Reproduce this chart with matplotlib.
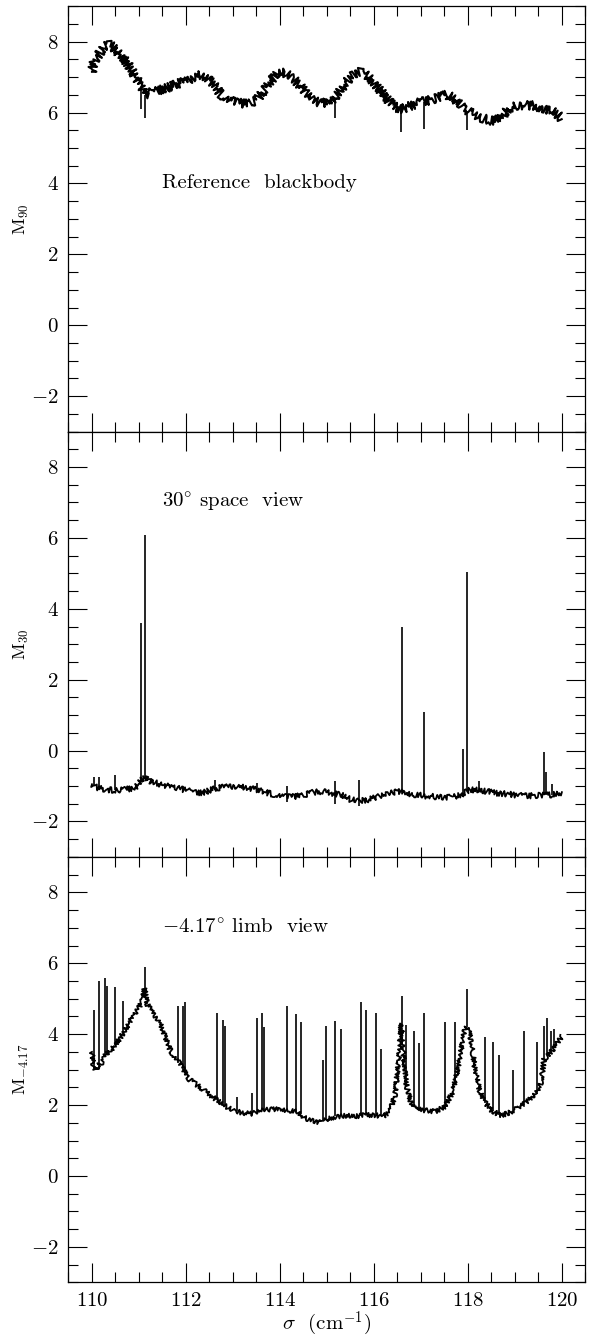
import matplotlib
matplotlib.use("Agg")
import matplotlib.pyplot as plt
from matplotlib.ticker import MultipleLocator

plt.rcParams["font.family"] = ["cmr10", "DejaVu Serif"]
plt.rcParams["mathtext.fontset"] = "cm"
plt.rcParams["axes.formatter.use_mathtext"] = True

# Reference blackbody (90 deg) - smooth envelope of the noisy trace
m90_x = [110.00, 110.05, 110.15, 110.25, 110.35, 110.45, 110.60, 110.75, 110.85, 110.95,
         111.05, 111.12, 111.20, 111.35, 111.50, 111.70, 111.90, 112.10, 112.30, 112.45,
         112.60, 112.75, 112.90, 113.10, 113.30, 113.50, 113.65, 113.80, 113.95, 114.10,
         114.25, 114.40, 114.55, 114.70, 114.90, 115.10, 115.25, 115.40, 115.55, 115.70,
         115.85, 116.00, 116.15, 116.30, 116.45, 116.60, 116.80, 117.00, 117.20, 117.40,
         117.55, 117.70, 117.85, 118.00, 118.15, 118.30, 118.45, 118.60, 118.75, 118.85,
         119.00, 119.20, 119.40, 119.60, 119.80, 119.90, 120.00]
m90_y = [7.15, 7.45, 7.65, 7.85, 7.93, 7.85, 7.62, 7.40, 7.18, 6.95,
         6.75, 6.50, 6.55, 6.60, 6.65, 6.75, 6.85, 6.95, 7.05, 6.98,
         6.78, 6.50, 6.35, 6.27, 6.25, 6.35, 6.60, 6.90, 7.10, 7.12,
         7.00, 6.80, 6.55, 6.35, 6.25, 6.35, 6.55, 6.85, 7.05, 7.15,
         7.05, 6.85, 6.60, 6.35, 6.15, 6.10, 6.20, 6.30, 6.35, 6.45,
         6.50, 6.40, 6.20, 6.05, 5.95, 5.85, 5.78, 5.78, 5.90, 6.10,
         6.20, 6.20, 6.20, 6.10, 6.05, 5.95, 5.82]
m90_dip_x = [111.05, 111.13, 115.18, 116.57, 117.06, 117.98]
m90_dip_top = [6.75, 6.50, 6.40, 6.10, 6.30, 6.05]
m90_dip_bot = [6.10, 5.85, 5.85, 5.45, 5.55, 5.50]

# 30 deg space view
m30_x = [110.00, 110.10, 110.30, 110.50, 110.70, 110.90, 111.00, 111.02, 111.06, 111.10,
         111.16, 111.22, 111.40, 111.60, 111.80, 112.00, 112.20, 112.35, 112.50, 112.70,
         112.90, 113.10, 113.30, 113.50, 113.70, 113.90, 114.10, 114.30, 114.50, 114.70,
         114.90, 115.10, 115.30, 115.50, 115.70, 115.90, 116.10, 116.30, 116.50, 116.70,
         116.90, 117.10, 117.30, 117.50, 117.70, 117.85, 117.95, 118.05, 118.20, 118.40,
         118.60, 118.80, 119.00, 119.20, 119.40, 119.60, 119.80, 120.00]
m30_y = [-0.95, -1.05, -1.10, -1.12, -1.10, -1.05, -0.95, -0.85, -0.80, -0.80,
         -0.75, -0.85, -0.93, -1.00, -1.05, -1.12, -1.18, -1.20, -1.12, -1.05,
         -1.00, -1.02, -1.05, -1.10, -1.18, -1.25, -1.30, -1.30, -1.25, -1.18,
         -1.15, -1.20, -1.25, -1.38, -1.42, -1.38, -1.30, -1.22, -1.15, -1.20,
         -1.25, -1.28, -1.30, -1.33, -1.30, -1.25, -1.15, -1.10, -1.12, -1.15,
         -1.20, -1.22, -1.25, -1.28, -1.27, -1.25, -1.25, -1.18]
m30_line_x = [111.04, 111.12, 116.59, 117.06, 117.90, 117.98, 119.62, 119.67,
              110.05, 110.15, 110.50, 112.62, 113.52, 114.15, 115.18, 115.68,
              118.23, 119.78, 115.18, 114.15, 115.68]
m30_line_top = [3.60, 6.07, 3.48, 1.09, 0.05, 5.04, -0.04, -0.60,
                -0.75, -0.75, -0.70, -0.82, -0.90, -1.00, -0.85, -0.82,
                -0.85, -0.95, -1.20, -1.30, -1.40]
m30_line_bot = [-0.85, -0.80, -1.15, -1.28, -1.25, -1.15, -1.25, -1.25,
                -1.00, -1.07, -1.12, -1.10, -1.10, -1.30, -1.22, -1.42,
                -1.12, -1.25, -1.50, -1.45, -1.55]

# -4.17 deg limb view
m417_x = [110.00, 110.03, 110.08, 110.15, 110.22, 110.30, 110.40, 110.50, 110.60, 110.70,
          110.80, 110.90, 111.00, 111.07, 111.12, 111.17, 111.25, 111.35, 111.45, 111.55,
          111.65, 111.75, 111.85, 111.95, 112.05, 112.20, 112.40, 112.60, 112.80, 113.00,
          113.20, 113.40, 113.60, 113.80, 114.00, 114.20, 114.40, 114.50, 114.70, 114.85,
          115.00, 115.20, 115.40, 115.60, 115.80, 116.00, 116.20, 116.35, 116.45, 116.52,
          116.58, 116.63, 116.70, 116.80, 116.90, 117.10, 117.30, 117.50, 117.65, 117.75,
          117.85, 117.93, 118.00, 118.07, 118.15, 118.25, 118.35, 118.50, 118.70, 118.90,
          119.10, 119.30, 119.45, 119.55, 119.62, 119.70, 119.80, 119.90, 120.00]
m417_y = [3.50, 3.10, 3.00, 3.15, 3.20, 3.45, 3.55, 3.70, 3.90, 4.10,
          4.35, 4.55, 4.75, 4.95, 5.30, 4.85, 4.70, 4.50, 4.30, 3.95,
          3.60, 3.35, 3.20, 3.00, 2.75, 2.60, 2.40, 2.20, 2.00, 1.85,
          1.78, 1.75, 1.85, 1.88, 1.88, 1.85, 1.80, 1.65, 1.55, 1.50,
          1.60, 1.68, 1.70, 1.68, 1.72, 1.72, 1.68, 1.85, 2.30, 3.20,
          4.30, 3.40, 2.50, 2.00, 1.88, 1.85, 1.82, 1.95, 2.30, 2.80,
          3.50, 4.15, 4.20, 3.80, 3.00, 2.40, 2.10, 1.85, 1.70, 1.80,
          1.95, 2.15, 2.35, 2.60, 3.30, 3.40, 3.55, 3.75, 3.95]
m417_line_x = [110.04, 110.15, 110.28, 110.33, 110.50, 110.65, 111.12, 111.84, 111.94, 111.98,
               112.67, 112.79, 112.83, 113.09, 113.40, 113.52, 113.62, 113.66, 114.15, 114.35,
               114.45, 114.91, 114.99, 115.18, 115.30, 115.72, 115.84, 116.04, 116.15, 116.59,
               116.68, 116.86, 116.96, 117.06, 117.52, 117.73, 117.97, 118.37, 118.54, 118.65,
               118.96, 119.20, 119.46, 119.62, 119.68, 119.77, 119.83]
m417_line_top = [4.69, 5.51, 5.58, 5.37, 5.33, 4.94, 5.90, 4.80, 4.80, 4.90,
                 4.59, 4.40, 4.24, 2.24, 2.34, 4.47, 4.61, 4.19, 4.80, 4.57,
                 4.33, 3.28, 4.22, 4.38, 4.14, 4.90, 4.69, 4.59, 3.58, 5.08,
                 4.26, 4.08, 3.74, 4.59, 4.33, 4.33, 5.27, 3.93, 3.77, 3.41,
                 2.98, 4.10, 3.77, 4.24, 4.45, 4.10, 4.14]
m417_line_bot = [3.05, 3.15, 3.40, 3.50, 3.70, 4.00, 5.30, 3.20, 3.00, 2.90,
                 2.15, 2.00, 2.00, 1.82, 1.75, 1.80, 1.85, 1.85, 1.85, 1.80,
                 1.75, 1.55, 1.60, 1.68, 1.70, 1.70, 1.72, 1.72, 1.70, 4.30,
                 2.60, 1.95, 1.88, 1.85, 1.95, 2.60, 4.20, 2.05, 1.82, 1.72,
                 1.82, 2.00, 2.30, 3.30, 3.40, 3.50, 3.60]

# line width and jitter (sketch) used to mimic the noisy traces
panels = [
    (m90_x, m90_y, 1.5, 4.5, m90_dip_x, m90_dip_bot, m90_dip_top,
     r"$\mathrm{M}_{90}$", "Reference  blackbody", 4.0),
    (m30_x, m30_y, 1.3, 2.8, m30_line_x, m30_line_bot, m30_line_top,
     r"$\mathrm{M}_{30}$", r"30$^{\circ}$ space  view", 7.0),
    (m417_x, m417_y, 1.3, 2.3, m417_line_x, m417_line_bot, m417_line_top,
     r"$\mathrm{M}_{-4.17}$", r"$-$4.17$^{\circ}$ limb  view", 7.0),
]

fig = plt.figure(figsize=(5.96, 13.41), dpi=100)
left, width = 0.1149, 0.8674
bottom0, height = 0.04377, 0.3172

for i, (x, y, lw, jit, lx, lb, lt, ylab, label, ty) in enumerate(panels):
    ax = fig.add_axes([left, bottom0 + (2 - i) * height, width, height])
    line, = ax.plot(x, y, color="black", lw=lw)
    line.set_sketch_params(scale=jit, length=1.2, randomness=4)
    ax.vlines(lx, lb, lt, color="black", lw=1.2)
    ax.set_xlim(109.5, 120.5)
    ax.set_ylim(-3, 9)
    ax.xaxis.set_major_locator(MultipleLocator(2))
    ax.xaxis.set_minor_locator(MultipleLocator(0.5))
    ax.yaxis.set_major_locator(MultipleLocator(2))
    ax.yaxis.set_minor_locator(MultipleLocator(0.5))
    ax.tick_params(which="both", direction="in", top=True, right=True,
                   width=0.8, labelsize=15, pad=7)
    ax.tick_params(which="major", length=14)
    ax.tick_params(which="minor", length=7.5)
    for s in ax.spines.values():
        s.set_linewidth(0.9)
    ax.text(111.5, ty, label, fontsize=15, va="center", ha="left")
    ax.set_ylabel(ylab, fontsize=13, va="center")
    ax.yaxis.set_label_coords(-0.091, 0.5)
    if i < 2:
        ax.tick_params(labelbottom=False)
    else:
        ax.set_xlabel(r"$\sigma$  (cm$^{-1}$)", fontsize=15, labelpad=0)

fig.savefig("out.png", dpi=100)
